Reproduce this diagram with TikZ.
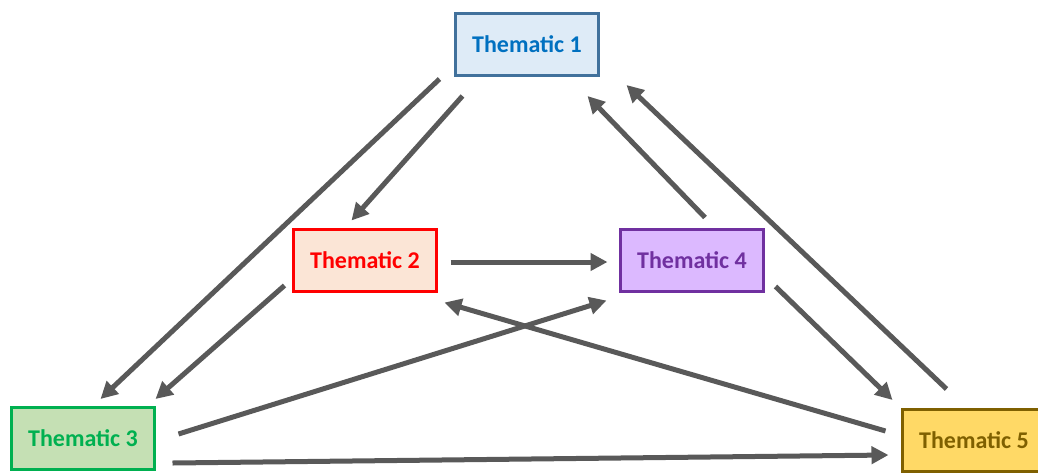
\documentclass[tikz,border=0pt]{standalone}
\usepackage{fontspec}
\setmainfont{Carlito}
\usetikzlibrary{arrows.meta}
\definecolor{arrgray}{HTML}{595959}
\definecolor{f1}{HTML}{DEEBF7}\definecolor{b1}{HTML}{41719C}\definecolor{t1}{HTML}{0070C0}
\definecolor{f2}{HTML}{FBE5D6}\definecolor{b2}{HTML}{FF0000}
\definecolor{f3}{HTML}{C5E0B4}\definecolor{b3}{HTML}{00B050}
\definecolor{f4}{HTML}{DCB9FF}\definecolor{b4}{HTML}{7030A0}
\definecolor{f5}{HTML}{FFD966}\definecolor{b5}{HTML}{7F6000}
\tikzset{
  box/.style={draw, line width=3pt, minimum width=143pt, minimum height=62pt, inner sep=0pt, outer sep=0pt,
    font=\fontsize{24}{26}\selectfont\bfseries},
  arr/.style={draw=arrgray, line width=5pt, -{Triangle[length=17pt,width=17pt]}}
}
\begin{document}
\begin{tikzpicture}[x=1pt,y=-1pt]
\useasboundingbox (0,0) rectangle (1038,472);
\clip (0,0) rectangle (1038,472);
\node[box, fill=f1, draw=b1, text=t1] (T1) at (527,44) {Thematic 1};
\node[box, fill=f2, draw=b2, text=b2] (T2) at (365,260.5) {Thematic 2};
\node[box, fill=f4, draw=b4, text=b4] (T4) at (692,260.5) {Thematic 4};
\node[box, fill=f3, draw=b3, text=b3] (T3) at (83,438) {Thematic 3};
\node[box, fill=f5, draw=b5, text=b5] (T5) at (974,440) {Thematic 5};
\draw[arr] ([shift={(-16,4)}]T1.south west) -- ([shift={(89,-8)}]T3.north west);
\draw[arr] ([shift={(7,21)}]T1.south west) -- ([shift={(58,-9)}]T2.north west);
\draw[arr] ([shift={(-9,-6)}]T2.south west) -- ([shift={(1,-8)}]T3.north east);
\draw[arr] ([shift={(14,1.5)}]T2.east) -- ([shift={(-13,1.5)}]T4.west);
\draw[arr] ([shift={(13,-12)}]T4.north) -- ([shift={(-11,21)}]T1.south east);
\draw[arr] ([shift={(44,-20)}]T5.north west) -- ([shift={(28,10)}]T1.south east);
\draw[arr] ([shift={(12,-5)}]T4.south east) -- ([shift={(-10,-9)}]T5.north west);
\draw[arr] ([shift={(-17,-9)}]T5.west) -- ([shift={(8,11)}]T2.south east);
\draw[arr] ([shift={(24,-4)}]T3.east) -- ([shift={(-14,9)}]T4.south west);
\draw[arr] ([shift={(18,25)}]T3.east) -- ([shift={(-14,15)}]T5.west);
\end{tikzpicture}
\end{document}
